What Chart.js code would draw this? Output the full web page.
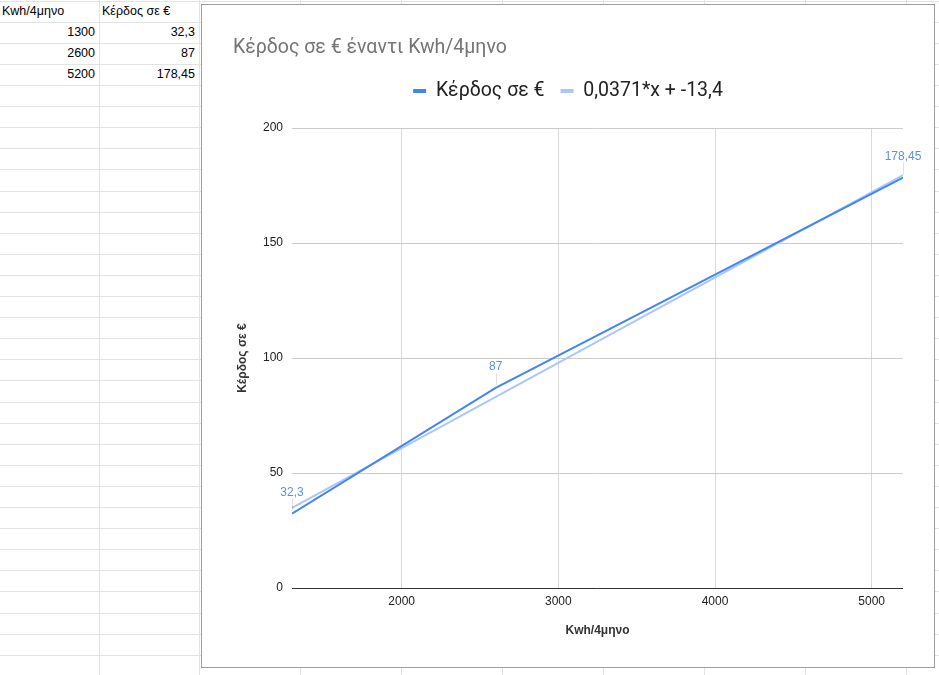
<!DOCTYPE html>
<html>
<head>
<meta charset="utf-8">
<script src="https://cdn.jsdelivr.net/npm/chart.js@4.4.1/dist/chart.umd.min.js"></script>
<style>
  html, body { margin: 0; padding: 0; background: #fff; }
  #sheet { position: relative; width: 939px; height: 675px; overflow: hidden; font-family: "Liberation Sans", Arial, sans-serif; }
  .vline { position: absolute; top: 0; width: 1px; height: 675px; background: #e2e3e3; }
  .hline { position: absolute; left: 0; height: 1px; width: 939px; background: #e2e3e3; }
  .cell { position: absolute; height: 21px; line-height: 21px; font-size: 12.5px; color: #000; white-space: nowrap; }
  #chartBox { position: absolute; left: 201px; top: 4px; width: 732px; height: 662px; border: 1px solid #9e9e9e; background: #fff; }
</style>
</head>
<body>
<div id="sheet">
  <div id="chartBox"><canvas id="profitChart"></canvas></div>
</div>
<script>
const headers = ['Kwh/4μηνο', 'Κέρδος σε €'];
const xValues = [1300, 2600, 5200];
const profitValues = [32.3, 87, 178.45];
const trendX = [1300, 5200];
const trendValues = [34.8, 179.5];
const xTicks = [2000, 3000, 4000, 5000];
const yTicks = [0, 50, 100, 150, 200];
const seriesNames = ['Κέρδος σε €', '0,0371*x + -13,4'];
const chartTitle = 'Κέρδος σε € έναντι Kwh/4μηνο';

const toComma = v => String(v).replace('.', ',');

// spreadsheet grid behind the chart
const sheet = document.getElementById('sheet');
const chartBox = document.getElementById('chartBox');
const colEdges = [99, 199, 300, 401, 502, 603, 704, 805, 906];
colEdges.forEach(x => {
    const d = document.createElement('div');
    d.className = 'vline';
    d.style.left = x + 'px';
    sheet.insertBefore(d, chartBox);
});
for (let k = 0; k < 33; k++) {
    const d = document.createElement('div');
    d.className = 'hline';
    d.style.top = Math.round(0.6 + 21.1 * k) + 'px';
    sheet.insertBefore(d, chartBox);
}
function addCell(text, left, width, row, align) {
    const d = document.createElement('div');
    d.className = 'cell';
    d.textContent = text;
    d.style.left = left + 'px';
    d.style.width = width + 'px';
    d.style.top = Math.round(0.6 + 21.1 * (row - 1)) + 'px';
    d.style.textAlign = align;
    sheet.insertBefore(d, chartBox);
}
addCell(headers[0], 2, 94, 1, 'left');
addCell(headers[1], 102, 94, 1, 'left');
xValues.forEach((x, i) => {
    addCell(String(x), 0, 95, i + 2, 'right');
    addCell(toComma(profitValues[i]), 100, 95, i + 2, 'right');
});

const pointLabels = {
    id: 'pointLabels',
    afterDatasetsDraw(chart) {
        const ctx = chart.ctx;
        const meta = chart.getDatasetMeta(0);
        ctx.save();
        meta.data.forEach((pt, i) => {
            const sx = Math.round(pt.x) + 0.5;
            ctx.strokeStyle = 'rgba(0,0,0,0.12)';
            ctx.lineWidth = 1;
            ctx.beginPath();
            ctx.moveTo(sx, pt.y - 15);
            ctx.lineTo(sx, pt.y - 3);
            ctx.stroke();
            ctx.fillStyle = '#5a8ff2';
            ctx.font = '12px "Liberation Sans", Arial, sans-serif';
            ctx.textAlign = 'center';
            ctx.textBaseline = 'middle';
            ctx.fillText(toComma(profitValues[i]), pt.x, pt.y - 21);
        });
        ctx.restore();
    }
};

// extra room under the legend
const legendGap = {
    id: 'legendGap',
    beforeInit(chart) {
        const origFit = chart.legend.fit;
        chart.legend.fit = function () {
            origFit.bind(chart.legend)();
            this.height += 17.25;
        };
    }
};

const canvas = document.getElementById('profitChart');
canvas.chart = new Chart(canvas.getContext('2d'), {
    type: 'line',
    data: {
        datasets: [{
            label: seriesNames[0],
            data: xValues.map((x, i) => ({ x: x, y: profitValues[i] })),
            borderColor: '#4285f4',
            backgroundColor: '#4285f4',
            borderWidth: 2,
            pointRadius: 0,
            tension: 0
        }, {
            label: seriesNames[1],
            data: trendX.map((x, i) => ({ x: x, y: trendValues[i] })),
            borderColor: '#aac7f9',
            backgroundColor: '#aac7f9',
            borderWidth: 2,
            pointRadius: 0,
            tension: 0
        }]
    },
    options: {
        responsive: true,
        maintainAspectRatio: false,
        animation: false,
        layout: { padding: { left: 31, right: 31, top: 0, bottom: 0 } },
        scales: {
            x: {
                type: 'linear',
                min: xValues[0],
                max: xValues[xValues.length - 1],
                afterBuildTicks: s => { s.ticks = xTicks.map(v => ({ value: v })); },
                afterFit: s => { s.height = 79; },
                border: { display: false },
                grid: { color: '#d9d9d9', drawTicks: false },
                ticks: {
                    padding: 6,
                    color: '#222',
                    font: { family: '"Liberation Sans", Arial, sans-serif', size: 12 },
                    callback: v => String(v)
                },
                title: {
                    display: true,
                    text: headers[0],
                    color: '#333',
                    font: { family: '"Liberation Sans", Arial, sans-serif', size: 12, weight: 'bold' },
                    padding: { top: 0, bottom: 29 }
                }
            },
            y: {
                min: yTicks[0],
                max: yTicks[yTicks.length - 1],
                afterBuildTicks: s => { s.ticks = yTicks.map(v => ({ value: v })); },
                afterFit: s => { s.width = 59; },
                border: { display: false },
                grid: {
                    drawTicks: false,
                    color: c => (c.tick && c.tick.value === 0) ? '#333' : '#cccccc'
                },
                ticks: {
                    padding: 9,
                    color: '#222',
                    font: { family: '"Liberation Sans", Arial, sans-serif', size: 12 }
                },
                title: {
                    display: true,
                    text: headers[1],
                    color: '#333',
                    font: { family: '"Liberation Sans", Arial, sans-serif', size: 12, weight: 'bold' },
                    padding: { top: 2, bottom: 0 }
                }
            }
        },
        plugins: {
            title: {
                display: true,
                text: chartTitle,
                align: 'start',
                color: '#757575',
                font: { family: 'Roboto', size: 19.5, weight: 'normal' },
                padding: { top: 31.3, bottom: 5.55 }
            },
            legend: {
                display: true,
                labels: {
                    boxWidth: 13,
                    boxHeight: 4,
                    padding: 16,
                    color: '#222',
                    font: { family: 'Roboto', size: 19.5 },
                    generateLabels: chart => chart.data.datasets.map((ds, i) => ({
                        text: ds.label,
                        fillStyle: ds.borderColor,
                        strokeStyle: ds.borderColor,
                        lineWidth: 0,
                        hidden: false,
                        datasetIndex: i,
                        fontColor: '#222'
                    }))
                }
            },
            tooltip: { enabled: false }
        }
    },
    plugins: [pointLabels, legendGap]
});
</script>
</body>
</html>
